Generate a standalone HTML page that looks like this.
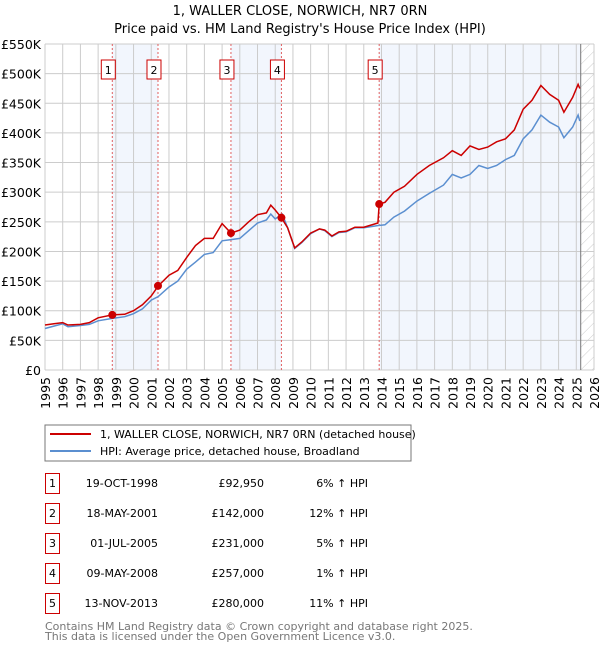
<!DOCTYPE html>
<html><head><meta charset="utf-8"><style>
body{margin:0;background:#fff;font-family:"Liberation Sans","DejaVu Sans",sans-serif}
svg text{font-family:"DejaVu Sans","Liberation Sans",sans-serif}
</style></head><body>
<svg id="c" width="600" height="650" viewBox="0 0 600 650" xmlns="http://www.w3.org/2000/svg">
<defs><pattern id="hatch" patternUnits="userSpaceOnUse" width="8" height="8" patternTransform="rotate(45)"><line x1="0" y1="0" x2="0" y2="8" stroke="#ccc" stroke-width="1"/></pattern></defs>
<text x="300" y="15" text-anchor="middle" font-size="13">1, WALLER CLOSE, NORWICH, NR7 0RN</text>
<text x="300" y="33" text-anchor="middle" font-size="13">Price paid vs. HM Land Registry's House Price Index (HPI)</text>
<g id="plot"></g>
<rect x="45" y="425" width="366" height="36" fill="#fff" stroke="#777"/>
<line x1="50" y1="434" x2="91" y2="434" stroke="#cc0000" stroke-width="2"/>
<text x="100" y="438" font-size="11">1, WALLER CLOSE, NORWICH, NR7 0RN (detached house)</text>
<line x1="50" y1="451" x2="91" y2="451" stroke="#5b8fd0" stroke-width="2"/>
<text x="100" y="455" font-size="11">HPI: Average price, detached house, Broadland</text>
<g id="table" font-size="11"></g>
<text x="45" y="630" font-size="11" fill="#777">Contains HM Land Registry data © Crown copyright and database right 2025.</text>
<text x="45" y="640" font-size="11" fill="#777">This data is licensed under the Open Government Licence v3.0.</text>
</svg>
<script>
const hpiYears=[1995,1995.5,1996,1996.3,1997,1997.5,1998,1998.8,1999.5,2000,2000.5,2001,2001.4,2002,2002.5,2003,2003.5,2004,2004.5,2005,2005.5,2006,2006.5,2007,2007.5,2007.75,2008,2008.4,2008.7,2009.1,2009.5,2010,2010.5,2010.8,2011.2,2011.6,2012,2012.5,2013,2013.87,2014.2,2014.7,2015.3,2016,2016.7,2017.5,2018,2018.5,2019,2019.5,2020,2020.5,2021,2021.5,2022,2022.5,2023,2023.5,2024,2024.3,2024.8,2025.1,2025.2];
const hpiValues=[70,74,78,73,75,77,83,87,90,95,103,118,124,140,150,170,182,195,198,218,220,222,235,248,253,263,255,263,240,205,215,230,238,235,225,232,233,240,240,244,245,258,268,285,298,312,330,324,330,345,340,345,355,362,390,405,430,418,410,392,410,430,420];
const propYears=[1995,1995.5,1996,1996.3,1997,1997.5,1998,1998.8,1999.5,2000,2000.5,2001,2001.4,2002,2002.5,2003,2003.5,2004,2004.5,2005,2005.5,2006,2006.5,2007,2007.5,2007.75,2008,2008.35,2008.7,2009.1,2009.5,2010,2010.5,2010.8,2011.2,2011.6,2012,2012.5,2013,2013.8,2013.87,2014.2,2014.7,2015.3,2016,2016.7,2017.5,2018,2018.5,2019,2019.5,2020,2020.5,2021,2021.5,2022,2022.5,2023,2023.5,2024,2024.3,2024.8,2025.1,2025.2];
const propValues=[76,78,80,76,77,80,88,93,94,100,110,125,142,160,168,190,210,222,222,247,231,236,250,262,265,278,270,257,240,206,216,231,238,236,226,233,234,241,241,248,280,283,300,310,330,345,358,370,362,378,372,376,385,390,405,440,455,480,465,455,435,460,482,475];
const saleYears=[1998.8,2001.38,2005.5,2008.35,2013.87];
const saleValues=[92950,142000,231000,257000,280000];
const saleLabels=["1","2","3","4","5"];
const saleDates=["19-OCT-1998","18-MAY-2001","01-JUL-2005","09-MAY-2008","13-NOV-2013"];
const salePrices=["£92,950","£142,000","£231,000","£257,000","£280,000"];
const saleDiffs=["6% ↑ HPI","12% ↑ HPI","5% ↑ HPI","1% ↑ HPI","11% ↑ HPI"];
const yTicks=[0,50,100,150,200,250,300,350,400,450,500,550];
const yTickLabels=["£0","£50K","£100K","£150K","£200K","£250K","£300K","£350K","£400K","£450K","£500K","£550K"];
const xTicks=[1995,1996,1997,1998,1999,2000,2001,2002,2003,2004,2005,2006,2007,2008,2009,2010,2011,2012,2013,2014,2015,2016,2017,2018,2019,2020,2021,2022,2023,2024,2025,2026];
const dataEnd=2025.25;

const X0=45,X1=594,Y0=370,Y1=44;
const xS=y=>X0+(y-1995)/(2026-1995)*(X1-X0);
const yS=v=>Y0-v/550*(Y0-Y1);
const NS="http://www.w3.org/2000/svg";
const plot=document.getElementById('plot');
function mk(tag,attrs,parent){const e=document.createElementNS(NS,tag);for(const k in attrs)e.setAttribute(k,attrs[k]);(parent||plot).appendChild(e);return e;}

let bg=mk('rect',{x:X0,y:Y1,width:X1-X0,height:Y0-Y1,fill:'#fff'});


const shadePairs=[[0,1],[2,3]];
shadePairs.forEach((p,i)=>{let r=mk('rect',{x:xS(saleYears[p[0]]),y:Y1,width:xS(saleYears[p[1]])-xS(saleYears[p[0]]),height:Y0-Y1,fill:'#f2f6fd'});

});
let r5=mk('rect',{x:xS(saleYears[4]),y:Y1,width:xS(dataEnd)-xS(saleYears[4]),height:Y0-Y1,fill:'#f2f6fd'});


let hr=mk('rect',{x:xS(dataEnd),y:Y1,width:X1-xS(dataEnd),height:Y0-Y1,fill:'url(#hatch)'});


yTicks.forEach((t,i)=>{let l=mk('line',{x1:X0,x2:X1,y1:yS(t),y2:yS(t),stroke:'#ccc','stroke-width':1});


let tx=mk('text',{x:X0-4,y:yS(t)+5,'text-anchor':'end','font-size':12.5});
tx.textContent=yTickLabels[i];

});
xTicks.forEach(t=>{let l=mk('line',{x1:xS(t),x2:xS(t),y1:Y1,y2:Y0,stroke:'#ccc','stroke-width':1});


let tx=mk('text',{x:0,y:0,'text-anchor':'end','font-size':12.5,transform:`translate(${xS(t)+5},${Y0+7}) rotate(-90)`});
tx.textContent=t;

});
let el=mk('line',{x1:xS(dataEnd),x2:xS(dataEnd),y1:Y1,y2:Y0,stroke:'#777','stroke-width':1});


saleYears.forEach((s,i)=>{let l=mk('line',{x1:xS(s),x2:xS(s),y1:Y1,y2:Y0,stroke:'#e06060','stroke-width':1,'stroke-dasharray':'2,2'});

});
function path(xs,vs){return xs.map((y,i)=>(i?'L':'M')+xS(y).toFixed(1)+','+yS(vs[i]).toFixed(1)).join('');}
let hp=mk('path',{d:path(hpiYears,hpiValues),fill:'none',stroke:'#5b8fd0','stroke-width':1.5});


let pp=mk('path',{d:path(propYears,propValues),fill:'none',stroke:'#cc0000','stroke-width':1.5});


saleYears.forEach((s,i)=>{let c=mk('circle',{cx:xS(s),cy:yS(saleValues[i]/1000),r:4,fill:'#cc0000'});


let b=mk('rect',{x:xS(s)-11,y:60,width:14,height:19,fill:'#fff',stroke:'#cc0000','stroke-width':1});


let t=mk('text',{x:xS(s)-4,y:74,'text-anchor':'middle','font-size':11});
t.textContent=saleLabels[i];

});
const tb=document.getElementById('table');
saleLabels.forEach((lab,i)=>{const y=483+i*30;
let b=mk('rect',{x:45.5,y:y-9.5,width:14,height:20,fill:'#fff',stroke:'#cc0000'},tb);


let t=mk('text',{x:52.5,y:y+4,'text-anchor':'middle'},tb);t.textContent=lab;


let d=mk('text',{x:158,y:y+4,'text-anchor':'end'},tb);d.textContent=saleDates[i];


let p=mk('text',{x:264,y:y+4,'text-anchor':'end'},tb);p.textContent=salePrices[i];


let h=mk('text',{x:368,y:y+4,'text-anchor':'end'},tb);h.textContent=saleDiffs[i];

});
</script>
</body></html>
